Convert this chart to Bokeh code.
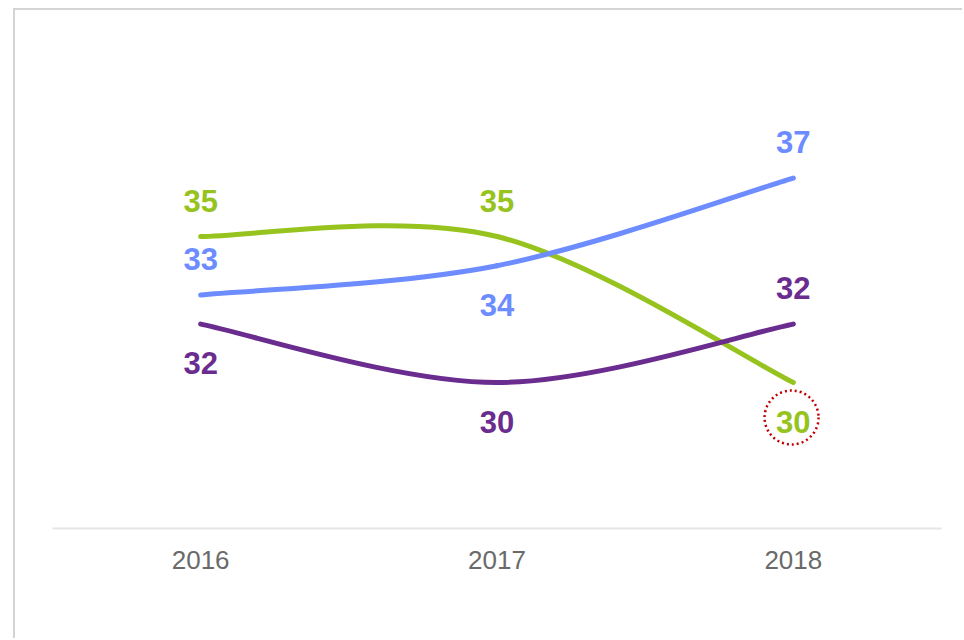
from bokeh.plotting import figure
from bokeh.models import FixedTicker, Range1d
from bokeh.embed import file_html
from bokeh.resources import INLINE
from bokeh.core.properties import value

# ---- data ----
years = [2016, 2017, 2018]
green_vals = [35, 35, 30]
blue_vals = [33, 34, 37]
purple_vals = [32, 30, 32]

# ---- styles ----
series = [
    ("green", green_vals, "#96c31e", ["above", "above", "below"]),
    ("blue", blue_vals, "#6c8cff", ["above", "below", "above"]),
    ("purple", purple_vals, "#6a2c8e", ["below", "below", "above"]),
]
highlight = ("green", 2)  # circled label

H = 630
FRAME_H = 518
Y0, Y1 = 25, 25 + FRAME_H / 29.2

p = figure(width=949, height=H, output_backend="svg", toolbar_location=None,
           x_range=Range1d(2015.5, 2018.5), y_range=Range1d(Y0, Y1),
           min_border_left=37, min_border_right=23, min_border_top=0,
           min_border_bottom=H - FRAME_H,
           styles={"border-left": "2px solid #d4d4d4",
                   "border-top": "2px solid #d4d4d4",
                   "margin-left": "13px",
                   "margin-top": "8px"})
p.outline_line_color = None
p.grid.visible = False
p.yaxis.visible = False
p.xaxis.ticker = FixedTicker(ticks=years)
p.xaxis.axis_line_color = "#e6e6e6"
p.xaxis.axis_line_width = 2
p.xaxis.major_tick_line_color = None
p.xaxis.minor_tick_line_color = None
p.xaxis.major_label_text_font = "Liberation Sans"
p.xaxis.major_label_text_font_size = "26px"
p.xaxis.major_label_text_color = "#6a6a6a"
p.xaxis.major_label_standoff = 16

px_per_unit = FRAME_H / (Y1 - Y0)


def smooth_segments(xs, ys):
    n = len(xs)
    m = []
    for i in range(n):
        if i == 0:
            m.append(((xs[1] - xs[0]) / 2, (ys[1] - ys[0]) / 2))
        elif i == n - 1:
            m.append(((xs[i] - xs[i - 1]) / 2, (ys[i] - ys[i - 1]) / 2))
        else:
            m.append(((xs[i + 1] - xs[i - 1]) / 2, (ys[i + 1] - ys[i - 1]) / 2))
    seg = dict(x0=[], y0=[], x1=[], y1=[], cx0=[], cy0=[], cx1=[], cy1=[])
    for i in range(n - 1):
        seg["x0"].append(xs[i]); seg["y0"].append(ys[i])
        seg["x1"].append(xs[i + 1]); seg["y1"].append(ys[i + 1])
        seg["cx0"].append(xs[i] + m[i][0] / 3); seg["cy0"].append(ys[i] + m[i][1] / 3)
        seg["cx1"].append(xs[i + 1] - m[i + 1][0] / 3); seg["cy1"].append(ys[i + 1] - m[i + 1][1] / 3)
    return seg


ABOVE, BELOW = -36, 39
for name, vals, color, pos in series:
    seg = smooth_segments(years, vals)
    p.bezier(line_color=color, line_width=5, line_cap="round", **seg)
    offs = [ABOVE if q == "above" else BELOW for q in pos]
    p.text(x=years, y=vals, text=[str(v) for v in vals], y_offset=offs,
           text_color=color, text_font=value("Liberation Sans"),
           text_font_style="bold", text_font_size="31px",
           text_align="center", text_baseline="middle")
    if name == highlight[0]:
        i = highlight[1]
        off = BELOW if pos[i] == "below" else ABOVE
        cy = vals[i] - (off - 4) / px_per_unit
        p.scatter(x=[years[i] - 0.006], y=[cy], size=54, marker="circle",
                  fill_alpha=0, line_color="#c00000", line_width=2.5,
                  line_dash="2 3")

open("out.html", "w").write(file_html(p, INLINE))
